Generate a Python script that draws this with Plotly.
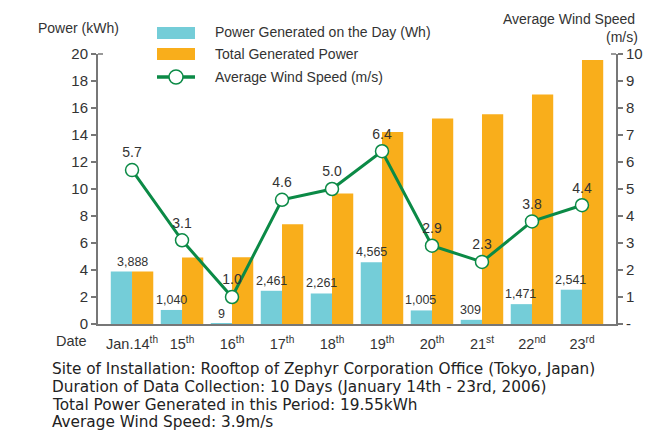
import plotly.graph_objects as go

dates = ["Jan.14<sup>th</sup>", "15<sup>th</sup>", "16<sup>th</sup>", "17<sup>th</sup>", "18<sup>th</sup>",
         "19<sup>th</sup>", "20<sup>th</sup>", "21<sup>st</sup>", "22<sup>nd</sup>", "23<sup>rd</sup>"]
daily_kwh = [3.888, 1.040, 0.009, 2.461, 2.261, 4.565, 1.005, 0.309, 1.471, 2.541]
daily_labels = ["3,888", "1,040", "9", "2,461", "2,261", "4,565", "1,005", "309", "1,471", "2,541"]
total_kwh = [3.888, 4.928, 4.937, 7.398, 9.659, 14.224, 15.229, 15.538, 17.009, 19.55]
wind = [5.7, 3.1, 1.0, 4.6, 5.0, 6.4, 2.9, 2.3, 3.8, 4.4]
left_ticks = list(range(0, 21, 2))
right_ticks = list(range(0, 11))
right_ticktext = ["-"] + [str(v) for v in right_ticks[1:]]

CYAN = "#74CDD8"
ORANGE = "#F9AE1B"
GREEN = "#0B8A46"
TXT = "#333333"
AXC = "#777777"
FONT = "Liberation Sans, Arial, sans-serif"

W, H = 671, 433
L, R, T, B = 98, 55, 54, 109
PW, PH = W - L - R, H - T - B

def pxx(x):
    return (x - L) / PW

def pxy(y):
    return (H - B - y) / PH

fig = go.Figure()
fig.add_trace(go.Bar(x=dates, y=daily_kwh, marker_color=CYAN, marker_line_width=0,
                     name="Power Generated on the Day (Wh)", showlegend=False))
fig.add_trace(go.Bar(x=dates, y=total_kwh, marker_color=ORANGE, marker_line_width=0,
                     name="Total Generated Power", showlegend=False))
fig.add_trace(go.Scatter(x=dates, y=wind, yaxis="y2", mode="lines+markers+text",
                         text=[f"{v:.1f}" for v in wind], textposition="top center",
                         textfont=dict(size=14, color=TXT, family=FONT),
                         line=dict(color=GREEN, width=3),
                         marker=dict(size=13, color="white", line=dict(color=GREEN, width=1.5)),
                         name="Average Wind Speed (m/s)", showlegend=False))

annotations = []
for i, (d, v, lab) in enumerate(zip(dates, daily_kwh, daily_labels)):
    shift = 0 if abs(v - total_kwh[i]) < 0.2 else -11
    annotations.append(dict(x=d, y=v, text=lab, showarrow=False, xshift=shift, yshift=1,
                            yanchor="bottom", font=dict(size=12.5, color=TXT, family=FONT)))

annotations += [
    dict(xref="paper", yref="paper", x=pxx(36), y=pxy(28), text="Power (kWh)", showarrow=False,
         xanchor="left", yanchor="middle", font=dict(size=14, color=TXT, family=FONT)),
    dict(xref="paper", yref="paper", x=pxx(637), y=pxy(19), text="Average Wind Speed", showarrow=False,
         xanchor="right", yanchor="middle", font=dict(size=14, color=TXT, family=FONT)),
    dict(xref="paper", yref="paper", x=pxx(640), y=pxy(37), text="(m/s)", showarrow=False,
         xanchor="right", yanchor="middle", font=dict(size=14, color=TXT, family=FONT)),
    dict(xref="paper", yref="paper", x=pxx(89), y=pxy(341), text="Date", showarrow=False,
         xanchor="right", yanchor="middle", font=dict(size=14.5, color=TXT, family=FONT)),
]

legend_items = ["Power Generated on the Day (Wh)", "Total Generated Power", "Average Wind Speed (m/s)"]
legend_rows = [32, 54, 77]
for name, yy in zip(legend_items, legend_rows):
    annotations.append(dict(xref="paper", yref="paper", x=pxx(213), y=pxy(yy), text=name,
                            showarrow=False, xanchor="left", yanchor="middle",
                            font=dict(size=14, color=TXT, family=FONT)))

shapes = [
    dict(type="rect", xref="paper", yref="paper", x0=pxx(157), x1=pxx(195), y0=pxy(39), y1=pxy(27),
         fillcolor=CYAN, line_width=0),
    dict(type="rect", xref="paper", yref="paper", x0=pxx(157), x1=pxx(195), y0=pxy(60), y1=pxy(48),
         fillcolor=ORANGE, line_width=0),
    dict(type="line", xref="paper", yref="paper", x0=pxx(157), x1=pxx(195), y0=pxy(77), y1=pxy(77),
         line=dict(color=GREEN, width=3.5)),
    dict(type="circle", xref="paper", yref="paper", x0=pxx(169), x1=pxx(183), y0=pxy(84), y1=pxy(70),
         fillcolor="white", line=dict(color=GREEN, width=1.5)),
    # small inward ticks at the top of both axes
    dict(type="line", xref="paper", yref="paper", x0=0, x1=pxx(103), y0=1, y1=1,
         line=dict(color=AXC, width=1.5)),
    dict(type="line", xref="paper", yref="paper", x0=pxx(611), x1=1, y0=1, y1=1,
         line=dict(color=AXC, width=1.5)),
]

bottom_lines = [
    "Site of Installation: Rooftop of Zephyr Corporation Office (Tokyo, Japan)",
    "Duration of Data Collection: 10 Days (January 14th - 23rd, 2006)",
    "Total Power Generated in this Period: 19.55kWh",
    "Average Wind Speed: 3.9m/s",
]
for i, line in enumerate(bottom_lines):
    annotations.append(dict(xref="paper", yref="paper", x=pxx(51), y=pxy(368.5 + i * 18), text=line,
                            showarrow=False, xanchor="left", yanchor="middle", borderpad=0,
                            font=dict(size=15.3, color="#222222", family="DejaVu Sans, sans-serif")))

fig.update_layout(
    width=W, height=H,
    margin=dict(l=L, r=R, t=T, b=B, pad=0),
    paper_bgcolor="white", plot_bgcolor="white",
    barmode="group", bargap=0.15, bargroupgap=0,
    showlegend=False,
    font=dict(family=FONT, color=TXT, size=14),
    xaxis=dict(showline=True, linecolor=AXC, linewidth=2, ticks="", showgrid=False,
               ticklabelstandoff=6, tickfont=dict(size=14.5, color=TXT)),
    yaxis=dict(range=[0, 20], tickvals=left_ticks, showline=True, linecolor=AXC, linewidth=2,
               ticks="outside", ticklen=5, tickcolor=AXC, tickwidth=1.5, showgrid=False, zeroline=False,
               tickfont=dict(size=15, color=TXT)),
    yaxis2=dict(range=[0, 10], overlaying="y", side="right", tickvals=right_ticks, ticktext=right_ticktext,
                showline=True, linecolor=AXC, linewidth=2, ticks="outside", ticklen=5, tickcolor=AXC,
                tickwidth=1.5, showgrid=False, zeroline=False, tickfont=dict(size=15, color=TXT)),
    annotations=annotations,
    shapes=shapes,
)

fig.write_html("out.html", config={"displayModeBar": False},
               post_script="document.body.style.margin='0';document.body.style.padding='0';")
